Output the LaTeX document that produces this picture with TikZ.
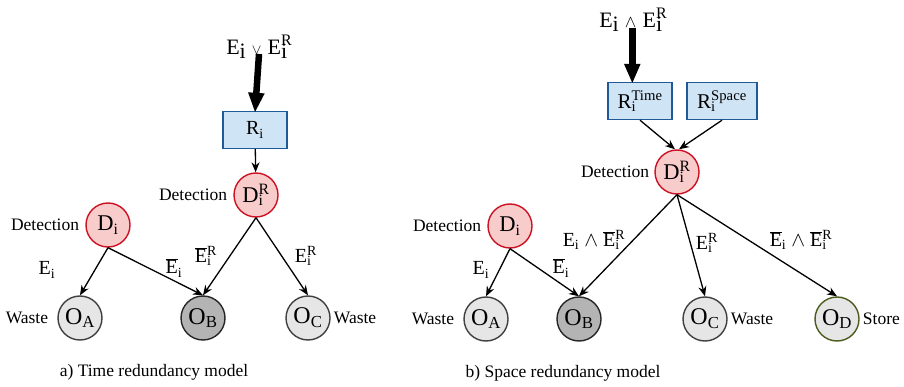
\documentclass[tikz,border=0pt]{standalone}
\usepackage{fontspec}
\setmainfont{Liberation Serif}
\usetikzlibrary{arrows.meta, positioning}

\definecolor{boxfill}{HTML}{CFE4F4}
\definecolor{boxline}{HTML}{1F5A96}
\definecolor{detfill}{HTML}{F9CCCC}
\definecolor{detline}{HTML}{CC1122}
\definecolor{outfill}{HTML}{E6E6E6}
\definecolor{grayline}{HTML}{404040}
\definecolor{badfill}{HTML}{B4B4B4}
\definecolor{storeline}{HTML}{4A5B1C}

% letter with stacked subscript and superscript
\newcommand{\SubSup}[3]{#1\rlap{\textsubscript{#2}}\textsuperscript{#3}}
% E with a bar over it
\newcommand{\Ebar}{$\overline{\hbox{E}}$}
% big lowered index used in the input labels
\newcommand{\bigi}{\raisebox{-0.45ex}{i}}
\newcommand{\bigR}{\raisebox{0.85ex}{\fontsize{16}{16}\selectfont R}}

\begin{document}
\begin{tikzpicture}[
  x=1pt, y=-1pt,
  arr/.style={line width=1.3pt, -{Stealth[length=10pt,width=8pt]}},
  bigarr/.style={line width=6.5pt, -{Triangle[length=20pt,width=15pt]}},
  rblock/.style={draw=boxline, fill=boxfill, line width=1.4pt, minimum height=37pt, inner sep=2pt, font=\fontsize{20}{22}\selectfont},
  detnode/.style={circle, draw=detline, fill=detfill, line width=1.4pt, minimum size=44pt, inner sep=0pt, font=\fontsize{22.5}{24}\selectfont},
  outnode/.style={circle, draw=grayline, fill=outfill, line width=1.4pt, minimum size=44pt, inner sep=0pt, font=\fontsize{24}{26}\selectfont},
  side/.style={inner sep=1pt, font=\fontsize{17.5}{19}\selectfont},
  lbl/.style={inner sep=1pt, font=\fontsize{20}{22}\selectfont},
  toplbl/.style={inner sep=1pt, font=\fontsize{22}{24}\selectfont}
]
\useasboundingbox (0,0) rectangle (904,387);

% a) time redundancy
\node[toplbl] (topA) at (259,47) {E\bigi\;{\fontsize{15}{15}\selectfont$\vee$}\;E\rlap{\bigi}\bigR};
\node[rblock, minimum width=64pt] (RA) at (255,130) {R\textsubscript{i}};
\node[detnode] (DRA) at (256,195) {\SubSup{D}{i}{R}};
\node[detnode] (DA) at (108,225) {D\textsubscript{i}};
\node[outnode] (OAA) at (80,318) {O\textsubscript{A}};
\node[outnode, fill=badfill, draw=black!85] (OBA) at (203,318) {O\textsubscript{B}};
\node[outnode] (OCA) at (308,318) {O\textsubscript{C}};

\node[side, left=5pt of DRA] (detRA) {Detection};
\node[side, left=5pt of DA] (detA) {Detection};
\node[side, left=8pt of OAA] (wasteAA) {Waste};
\node[side, right=2pt of OCA] (wasteCA) {Waste};

\node[lbl] (eA) at (47,270) {E\textsubscript{i}};
\node[lbl] (ebA) at (174,268) {\Ebar\textsubscript{i}};
\node[lbl] (ebrA) at (206,256) {\SubSup{\Ebar}{i}{R}};
\node[lbl] (erA) at (306,256) {\SubSup{E}{i}{R}};

\draw[bigarr] ([yshift=6pt]topA.south) -- ([yshift=-2pt]RA.north);
\draw[arr] (RA) -- (DRA);
\draw[arr] (DA.south) -- (OAA.north);
\draw[arr] (DA.south) -- (OBA.north);
\draw[arr] (DRA.south) -- (OBA.north);
\draw[arr] (DRA.south) -- (OCA.north);

\node[side] (capA) at (154,372) {a) Time redundancy model};

% b) space redundancy
\node[toplbl] (topB) at (633,20) {E\bigi\;{\fontsize{17}{17}\selectfont$\wedge$}\;E\rlap{\bigi}\bigR};
\node[rblock, minimum width=64pt, font=\fontsize{21}{23}\selectfont] (RT) at (640,101) {\SubSup{R}{i}{Time}};
\node[rblock, minimum width=70pt, font=\fontsize{21}{23}\selectfont] (RS) at (722,101) {\SubSup{R}{i}{Space}};
\node[detnode] (DRB) at (677,172) {\SubSup{D}{i}{R}};
\node[detnode] (DB) at (510,226) {D\textsubscript{i}};
\node[outnode] (OAB) at (486,319) {O\textsubscript{A}};
\node[outnode, fill=badfill, draw=black!85] (OBB) at (579,319) {O\textsubscript{B}};
\node[outnode] (OCB) at (705,319) {O\textsubscript{C}};
\node[outnode, draw=storeline] (ODB) at (837,319) {O\textsubscript{D}};

\node[side, left=4pt of DRB] (detRB) {Detection};
\node[side, left=5pt of DB] (detB) {Detection};
\node[side, left=8pt of OAB] (wasteAB) {Waste};
\node[side, right=2pt of OCB] (wasteCB) {Waste};
\node[side, right=2pt of ODB] (storeB) {Store};

\node[lbl] (eB) at (481,270) {E\textsubscript{i}};
\node[lbl] (ebB) at (561,268) {\Ebar\textsubscript{i}};
\node[lbl] (eebB) at (594,240) {E\textsubscript{i} $\wedge$ \SubSup{\Ebar}{i}{R}};
\node[lbl] (erB) at (707,243) {\SubSup{E}{i}{R}};
\node[lbl] (ebebB) at (801,240) {\Ebar\textsubscript{i} $\wedge$ \SubSup{\Ebar}{i}{R}};

\draw[bigarr] ([yshift=5pt]topB.south -| RT.north west) ++(25pt,0) coordinate (bigS) -- ([yshift=-2pt]bigS |- RT.north);
\draw[arr] (RT.south) -- ([xshift=-2pt]DRB.north);
\draw[arr] (RS.south) -- ([xshift=2pt]DRB.north);
\draw[arr] (DB.south) -- (OAB.north);
\draw[arr] (DB.south) -- (OBB.north);
\draw[arr] (DRB.south) -- (OBB.north);
\draw[arr] (DRB.south) -- (OCB.north);
\draw[arr] (DRB.south) -- (ODB.north);

\node[side] (capB) at (563,373) {b) Space redundancy model};
\end{tikzpicture}
\end{document}
